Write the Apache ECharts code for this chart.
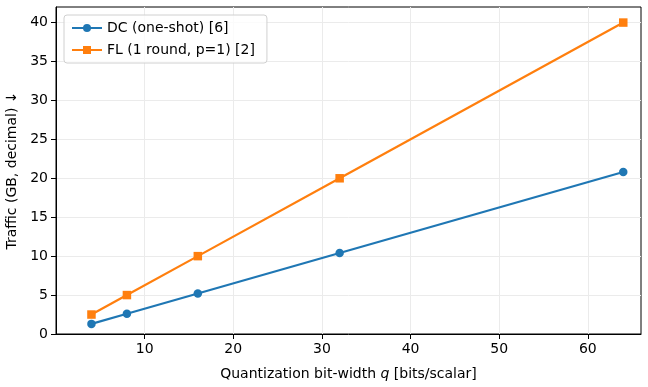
<!DOCTYPE html>
<html>
<head>
<meta charset="utf-8">
<script src="https://cdn.jsdelivr.net/npm/echarts@6/dist/echarts.min.js"></script>
<style>
  html, body { margin: 0; padding: 0; background: #fff; }
  #main { width: 648px; height: 387px; }
</style>
</head>
<body>
<div id="main"></div>
<script>
var bitWidths = [4, 8, 16, 32, 64];
var dcTraffic = [1.3, 2.6, 5.2, 10.4, 20.8];
var flTraffic = [2.5, 5, 10, 20, 40];
var seriesNames = ["DC (one-shot) [6]", "FL (1 round, p=1) [2]"];
var xTicks = [10, 20, 30, 40, 50, 60];
var yTicks = [0, 5, 10, 15, 20, 25, 30, 35, 40];

var font = "DejaVu Sans";
var fs = 14;
var chart = echarts.init(document.getElementById("main"));

function pairs(xs, ys) {
  return xs.map(function (x, i) { return [x, ys[i]]; });
}

var option = {
  backgroundColor: "#fff",
  animation: false,
  grid: {
    left: 56, right: 7, top: 7, bottom: 53,
    outerBoundsMode: "none",
    show: true, borderColor: "#000", borderWidth: 1
  },
  legend: {
    left: 64, top: 15,
    orient: "vertical",
    data: seriesNames,
    itemWidth: 30, itemHeight: 10, itemGap: 8,
    padding: [6, 12, 6, 7],
    borderColor: "#d0d0d0", borderWidth: 1, borderRadius: 3,
    backgroundColor: "rgba(255,255,255,0.8)",
    textStyle: { color: "#000", fontFamily: font, fontSize: fs }
  },
  xAxis: {
    type: "value", min: 0, max: 66, interval: 10,
    name: "Quantization bit-width {i|q} [bits/scalar]",
    nameLocation: "middle", nameGap: 33,
    nameTextStyle: {
      color: "#000", fontFamily: font, fontSize: fs,
      rich: { i: { fontStyle: "italic", fontFamily: font, fontSize: fs, color: "#000" } }
    },
    axisLine: { show: true, onZero: false, lineStyle: { color: "#000", width: 1 } },
    axisTick: { show: true, inside: false, length: 5, customValues: xTicks, lineStyle: { color: "#000" } },
    axisLabel: { color: "#000", fontFamily: font, fontSize: fs, margin: 8, customValues: xTicks },
    splitLine: { show: true, lineStyle: { color: "#ebebeb", width: 1 } }
  },
  yAxis: {
    type: "value", min: 0, max: 42, interval: 5,
    name: "Traffic (GB, decimal) \u2193",
    nameLocation: "middle", nameGap: 35, nameRotate: 90,
    nameTextStyle: { color: "#000", fontFamily: font, fontSize: fs },
    axisLine: { show: true, onZero: false, lineStyle: { color: "#000", width: 1 } },
    axisTick: { show: true, inside: false, length: 5, customValues: yTicks, lineStyle: { color: "#000" } },
    axisLabel: { color: "#000", fontFamily: font, fontSize: fs, margin: 8, customValues: yTicks },
    splitLine: { show: true, lineStyle: { color: "#ebebeb", width: 1 } }
  },
  series: [
    {
      name: seriesNames[0], type: "line",
      data: pairs(bitWidths, dcTraffic),
      symbol: "circle", symbolSize: 8.5,
      color: "#1f77b4",
      lineStyle: { width: 2.2 },
      itemStyle: { color: "#1f77b4" }
    },
    {
      name: seriesNames[1], type: "line",
      data: pairs(bitWidths, flTraffic),
      symbol: "rect", symbolSize: 8.5,
      color: "#ff7f0e",
      lineStyle: { width: 2.2 },
      itemStyle: { color: "#ff7f0e" }
    }
  ]
};
chart.setOption(option);
</script>
</body>
</html>
